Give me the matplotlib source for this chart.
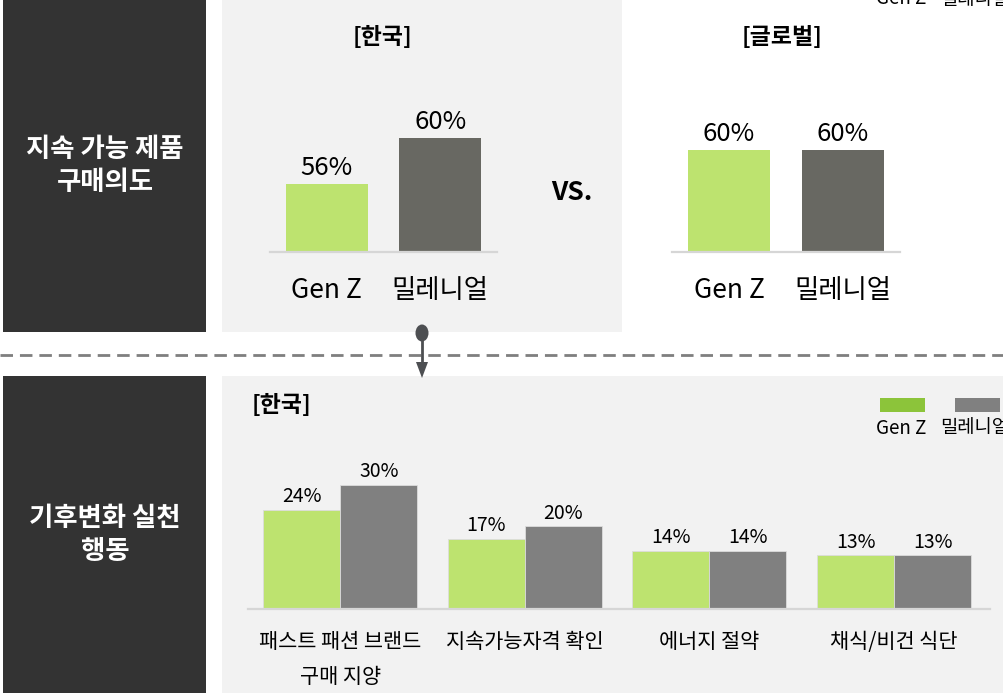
import matplotlib
matplotlib.use("Agg")
import matplotlib.pyplot as plt
import matplotlib.patches as mpatches
from matplotlib.lines import Line2D

plt.rcParams["font.family"] = ["Noto Sans CJK KR", "DejaVu Sans"]

# ── data ──────────────────────────────────────────────────────────────
groups_top = ["Gen Z", "밀레니얼"]
korea_intent = [56, 60]
global_intent = [60, 60]

actions = ["패스트 패션 브랜드\n구매 지양", "지속가능자격 확인", "에너지 절약", "채식/비건 식단"]
genz_action = [24, 17, 14, 13]
mill_action = [30, 20, 14, 13]

# ── style ─────────────────────────────────────────────────────────────
W, H = 1004, 693
DARK = "#333333"
PANEL = "#f2f2f2"
GREEN = "#bde36f"
GRAY_DARK = "#686862"
GRAY = "#808080"
LEG_GREEN = "#8cc43a"
BASE = "#d6d6d6"

fig = plt.figure(figsize=(W / 100, H / 100), dpi=100)

# background canvas in pixel coordinates
bg = fig.add_axes([0, 0, 1, 1])
bg.set_xlim(0, W)
bg.set_ylim(H, 0)
bg.axis("off")

bg.add_patch(mpatches.Rectangle((3, 0), 203, 332, color=DARK, lw=0))
bg.add_patch(mpatches.Rectangle((222, 0), 400, 332, color=PANEL, lw=0))
bg.add_patch(mpatches.Rectangle((3, 376), 203, 320, color=DARK, lw=0))
bg.add_patch(mpatches.Rectangle((222, 376), 790, 320, color=PANEL, lw=0))

bg.text(105, 166, "지속 가능 제품\n구매의도", color="white", fontsize=19,
        fontweight="bold", ha="center", va="center", linespacing=1.3)
bg.text(105, 535, "기후변화 실천\n행동", color="white", fontsize=19,
        fontweight="bold", ha="center", va="center", linespacing=1.3)

bg.text(383, 37, "[한국]", fontsize=16.5, fontweight="bold", ha="center", va="center")
bg.text(782, 37, "[글로벌]", fontsize=16.5, fontweight="bold", ha="center", va="center")
bg.text(572, 193, "VS.", fontsize=19, fontweight="bold", ha="center", va="center")
bg.text(252, 405, "[한국]", fontsize=16.5, fontweight="bold", ha="left", va="center")

# clipped legend at the very top (cut off in the original as well)
bg.text(901, -1, "Gen Z", fontsize=13.5, ha="center", va="center")
bg.text(940, -1, "밀레니얼", fontsize=13.5, ha="left", va="center")

# bottom legend
bg.add_patch(mpatches.Rectangle((880, 398), 45, 14, color=LEG_GREEN, lw=0))
bg.add_patch(mpatches.Rectangle((955, 398), 45, 14, color=GRAY, lw=0))
bg.text(901, 428, "Gen Z", fontsize=13.5, ha="center", va="center")
bg.text(940, 428, "밀레니얼", fontsize=13.5, ha="left", va="center")

# dashed separator + connector arrow
bg.add_line(Line2D([0, W], [355, 355], color="#7f7f7f", lw=2, dashes=(4.5, 2.5)))
bg.add_line(Line2D([422, 422], [333, 366], color="#4d4f52", lw=2))
bg.add_patch(mpatches.Ellipse((422, 333), 13, 17, color="#4d4f52", lw=0))
bg.add_patch(mpatches.Polygon([(416, 362), (428, 362), (422, 378)],
                              closed=True, color="#4d4f52", lw=0))


def px_axes(x0, y0, x1, y1):
    a = fig.add_axes([x0 / W, 1 - y1 / H, (x1 - x0) / W, (y1 - y0) / H])
    a.patch.set_alpha(0)
    for s in ["top", "right", "left"]:
        a.spines[s].set_visible(False)
    a.spines["bottom"].set_color(BASE)
    a.spines["bottom"].set_linewidth(1.6)
    a.set_yticks([])
    a.tick_params(axis="x", length=0)
    return a


def top_chart(a, vals, ytop):
    bars = a.bar([0, 1], vals, width=0.72, color=[GREEN, GRAY_DARK])
    a.set_xlim(-0.5, 1.5)
    a.set_ylim(50, ytop)
    a.set_xticks([0, 1])
    a.set_xticklabels(groups_top, fontsize=19)
    a.tick_params(axis="x", pad=18)
    a.bar_label(bars, labels=[f"{v}%" for v in vals], fontsize=18.5, padding=2)


ax_k = px_axes(270, 100, 497, 252)
top_chart(ax_k, korea_intent, 50 + 152 / 11.4)
ax_g = px_axes(672, 100, 900, 252)
top_chart(ax_g, global_intent, 50 + 152 / 10.2)

# bottom grouped chart
ax_b = px_axes(248, 460, 990, 609)
xs = list(range(len(actions)))
bw = 0.417
b1 = ax_b.bar([x - bw / 2 for x in xs], genz_action, width=bw, color=GREEN,
              edgecolor="#dcdcdc", linewidth=0.6)
b2 = ax_b.bar([x + bw / 2 for x in xs], mill_action, width=bw, color=GRAY,
              edgecolor="#dcdcdc", linewidth=0.6)
ax_b.set_xlim(-0.5, 3.52)
ax_b.set_ylim(0, 149 / 4.13)
ax_b.set_xticks(xs)
ax_b.set_xticklabels(actions, fontsize=15, linespacing=1.75, va="top")
ax_b.tick_params(axis="x", pad=16)
ax_b.bar_label(b1, labels=[f"{v}%" for v in genz_action], fontsize=14, padding=2)
ax_b.bar_label(b2, labels=[f"{v}%" for v in mill_action], fontsize=14, padding=2)

fig.savefig("out.png", dpi=100)
